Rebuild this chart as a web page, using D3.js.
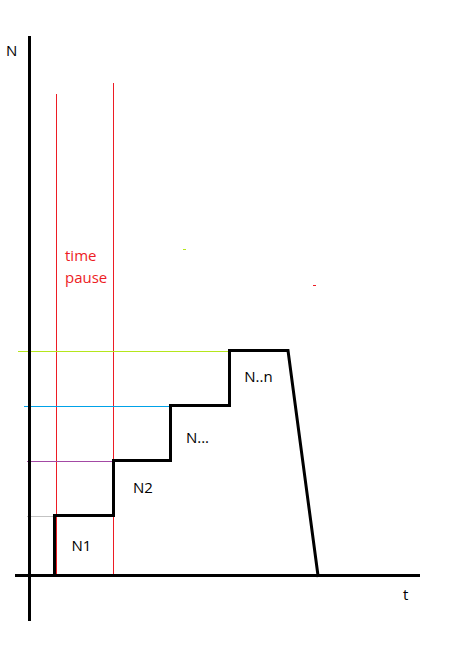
<!DOCTYPE html>
<html>
<head>
<meta charset="utf-8">
<script src="https://cdn.jsdelivr.net/npm/d3@7"></script>
<style>
html,body{margin:0;padding:0;background:#fff;}
svg{display:block;}
text{font-family:"Open Sans","Noto Sans",sans-serif;font-size:15px;}
</style>
</head>
<body>
<div id="chart"></div>
<script>
// ---- data (t = time, N = count) ----
const stepStarts = [25, 84, 141, 200];        // t where each level begins
const stepLevels = [60, 115, 170, 225];       // N of each level
const plateauEnd = 258.5;                     // t where the last level ends
const dropEnd = 288.5;                        // t where N returns to 0
const stepLabels = ["N1", "N2", "N...", "N..n"];
const labelN = [24.5, 82.5, 132.5, 193.5];    // label baselines (N units)
const labelT = [52, 113.5, 168, 229];         // label centres (t units)
const guideLevels = [59, 114, 169, 224];
const guideFrom = [-2.5, -2.5, -5.5, -11.5];
const guideTo = [32.5, 142.5, 200.5, 258.5];
const guideColors = ["#c3c3c3", "#a349a4", "#00a2e8", "#b5e61d"];
const pauseTimes = [27, 84];
const pauseTops = [481.5, 492.5];
const pauseLabel = ["time", "pause"];

const W = 461, H = 653;
const x = d3.scaleLinear().domain([0, 390]).range([29.5, 419.5]);
const y = d3.scaleLinear().domain([0, 540]).range([575.5, 35.5]);

const svg = d3.select("#chart").append("svg").attr("width", W).attr("height", H);

// pause verticals
svg.selectAll("line.pause").data(pauseTimes).join("line")
  .attr("x1", d => x(d)).attr("x2", d => x(d))
  .attr("y1", (d, i) => y(pauseTops[i])).attr("y2", y(0))
  .attr("stroke", "#ed1c24").attr("stroke-width", 1).attr("shape-rendering", "crispEdges");

// guide lines
svg.selectAll("line.guide").data(guideLevels).join("line")
  .attr("x1", (d, i) => x(guideFrom[i])).attr("x2", (d, i) => x(guideTo[i]))
  .attr("y1", d => y(d)).attr("y2", d => y(d))
  .attr("stroke", (d, i) => guideColors[i]).attr("stroke-width", 1).attr("shape-rendering", "crispEdges");

// axes
svg.append("line").attr("x1", x(0)).attr("x2", x(0)).attr("y1", y(540)).attr("y2", y(-45.5))
  .attr("stroke", "#000").attr("stroke-width", 3).attr("shape-rendering", "crispEdges");
svg.append("line").attr("x1", x(-14.5)).attr("x2", x(390)).attr("y1", y(0)).attr("y2", y(0))
  .attr("stroke", "#000").attr("stroke-width", 3).attr("shape-rendering", "crispEdges");

// step profile
const pts = [[stepStarts[0], 0]];
stepStarts.forEach((t, i) => {
  const prev = i === 0 ? 0 : stepLevels[i - 1];
  pts.push([t, prev]);
  pts.push([t, stepLevels[i]]);
});
pts.push([plateauEnd, stepLevels[stepLevels.length - 1]]);
pts.push([dropEnd, 0]);
svg.append("path")
  .attr("d", d3.line().x(d => x(d[0])).y(d => y(d[1]))(pts))
  .attr("fill", "none").attr("stroke", "#000").attr("stroke-width", 3)
  .attr("stroke-linejoin", "miter").attr("stroke-linecap", "square");

// step labels
svg.selectAll("text.step").data(stepLabels).join("text")
  .attr("x", (d, i) => x(labelT[i]))
  .attr("y", (d, i) => y(labelN[i]))
  .attr("text-anchor", "middle").attr("fill", "#000")
  .text(d => d);

// pause label
svg.selectAll("text.pause").data(pauseLabel).join("text")
  .attr("x", x(35.5)).attr("y", (d, i) => y(314.5 - i * 22))
  .attr("fill", "#ed1c24").text(d => d);

// axis titles
svg.append("text").attr("x", 6).attr("y", y(519.5)).attr("fill", "#000").text("N");
svg.append("text").attr("x", x(373.5)).attr("y", y(-24.5)).attr("fill", "#000").text("t");

// small stray marks
svg.append("line").attr("x1", x(153.5)).attr("x2", x(156.5)).attr("y1", y(326)).attr("y2", y(326))
  .attr("stroke", "#b5e61d").attr("stroke-width", 1).attr("shape-rendering", "crispEdges");
svg.append("line").attr("x1", x(283.5)).attr("x2", x(286.5)).attr("y1", y(290)).attr("y2", y(290))
  .attr("stroke", "#ed1c24").attr("stroke-width", 1).attr("shape-rendering", "crispEdges");
</script>
</body>
</html>
